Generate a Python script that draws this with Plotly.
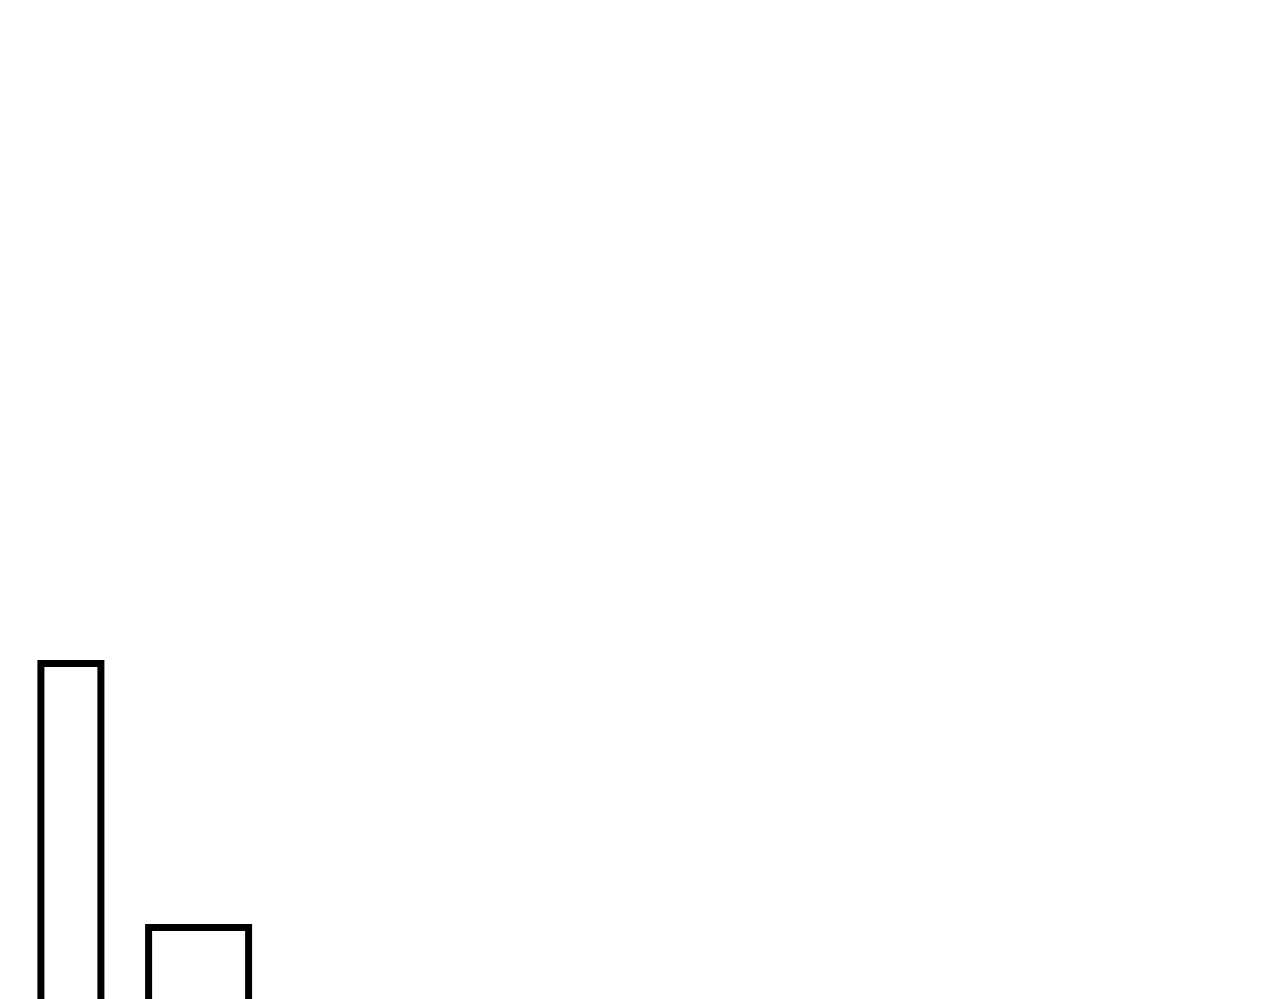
import plotly.graph_objects as go

# Two outlined bars, cropped at the bottom edge of the frame
positions = [7.09, 19.86]
bar_widths = [6.0, 10.0]
values = [40, 16]

fig = go.Figure()
fig.add_trace(go.Bar(
    x=positions, y=values, width=bar_widths,
    marker=dict(color='white', line=dict(color='black', width=7)),
    showlegend=False, hoverinfo='skip',
))

# ranges nudged to offset the page's default 8px body margin
fig.update_layout(
    width=1280, height=999,
    margin=dict(l=0, r=0, t=0, b=0),
    paper_bgcolor='white', plot_bgcolor='white',
    xaxis=dict(range=[0.8, 128.8], visible=False, fixedrange=True),
    yaxis=dict(range=[8.77, 99.57], visible=False, fixedrange=True),
)

fig.write_html("out.html")
